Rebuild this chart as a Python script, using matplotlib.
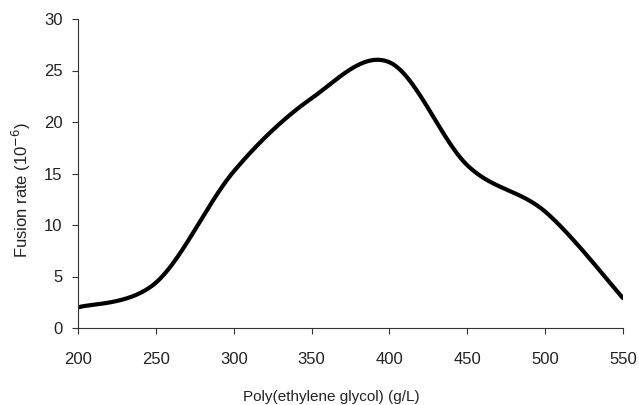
import matplotlib
matplotlib.use("Agg")
import matplotlib.pyplot as plt
import numpy as np

peg_conc = [200, 250, 300, 350, 400, 450, 500, 550]
fusion_rate = [2.0, 4.4, 15.2, 22.3, 25.8, 15.8, 11.3, 2.9]


def excel_smooth(xs, ys, n=60):
    # cubic bezier through points, Excel-style control points
    pts = np.column_stack([xs, ys]).astype(float)
    out = []
    for i in range(len(pts) - 1):
        p0 = pts[i - 1] if i > 0 else pts[i]
        p1 = pts[i]
        p2 = pts[i + 1]
        p3 = pts[i + 2] if i + 2 < len(pts) else pts[i + 1]
        c1 = p1 + (p2 - p0) / 6
        c2 = p2 - (p3 - p1) / 6
        t = np.linspace(0, 1, n)[:, None]
        seg = ((1 - t) ** 3) * p1 + 3 * ((1 - t) ** 2) * t * c1 + 3 * (1 - t) * t ** 2 * c2 + t ** 3 * p2
        out.append(seg if i == 0 else seg[1:])
    seg = np.vstack(out)
    return seg[:, 0], seg[:, 1]


plt.rcParams['font.family'] = ['Liberation Sans', 'DejaVu Sans']

fig = plt.figure(figsize=(6.39, 4.05), dpi=100)
ax = fig.add_axes([78 / 639, 77 / 405, 545 / 639, 309 / 405])

sx, sy = excel_smooth(peg_conc, fusion_rate)
ax.plot(sx, sy, color='black', linewidth=3, solid_capstyle='round')

ax.set_xlim(200, 550)
ax.set_ylim(0, 30)
ax.set_xticks(range(200, 551, 50))
ax.set_yticks(range(0, 31, 5))

for s in ['top', 'right']:
    ax.spines[s].set_visible(False)
for s in ['left', 'bottom']:
    ax.spines[s].set_color('#333333')
    ax.spines[s].set_linewidth(0.8)

ax.tick_params(axis='x', direction='out', length=4, width=0.8, color='#333333',
               labelsize=12, labelcolor='#222222', pad=13)
ax.tick_params(axis='y', direction='out', length=4, width=0.8, color='#333333',
               labelsize=12, labelcolor='#222222', pad=7)

ax.set_xlabel("Poly(ethylene glycol) (g/L)", fontsize=11, color='#222222')
ax.xaxis.set_label_coords(0.465, -0.236)
ax.xaxis.label.set_va('baseline')
ax.set_ylabel("Fusion rate (10$^{-6}$)", fontsize=12, color='#222222')
ax.yaxis.set_label_coords(-0.083, 0.447)

plt.savefig("out.png", dpi=100)
